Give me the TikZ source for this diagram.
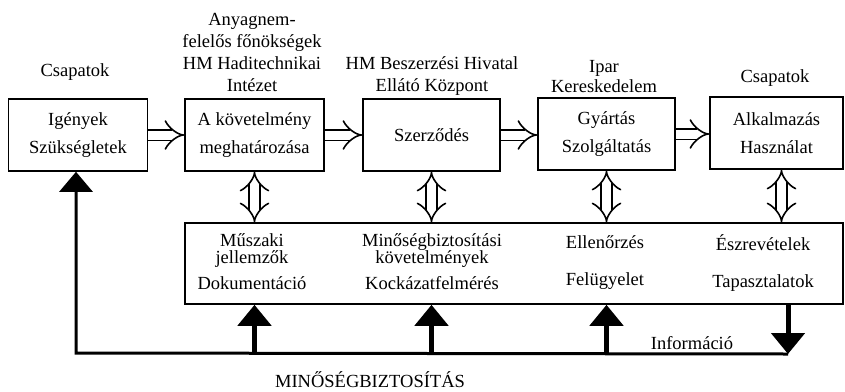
\documentclass[tikz,border=0pt]{standalone}
\usepackage{fontspec}
\setmainfont{Liberation Serif}
\usetikzlibrary{arrows.meta, calc}

\tikzset{
  box/.style={draw, line width=1.6pt, minimum width=139pt, minimum height=72pt,
    align=center, inner sep=0pt},
  lbl/.style={align=center, inner sep=0pt},
  hollow/.style={double, double distance=9pt, line width=1.6pt, -{Implies}},
  hollowboth/.style={double, double distance=9pt, line width=1.6pt, {Implies}-{Implies}},
  bus/.style={line width=3pt},
  stem/.style={line width=5pt, -{Triangle[width=33pt, length=21pt]}},
}

\begin{document}
\begin{tikzpicture}[x=1pt, y=-1pt,
    every node/.style={font=\fontsize{18.5}{22}\selectfont}]
  \useasboundingbox (0,0) rectangle (845,391);

  % main chain
  \node[box] (igeny) at (78,135) {Igények\\[6pt]Szükségletek};
  \node[box] (kovet) at (254.5,135) {A követelmény\\[6pt]meghatározása};
  \node[box, minimum width=137pt] (szerz) at (431.5,135) {Szerződés};
  \node[box, minimum width=137pt] (gyart) at (606.5,134) {Gyártás\\[6pt]Szolgáltatás};
  \node[box, minimum width=133pt] (alkal) at (776.5,133) {Alkalmazás\\[6pt]Használat};

  % who does it
  \node[lbl] (csap1) at (75,72) {Csapatok};
  \node[lbl] (anyag) at (252,52.5) {Anyagnem-\\felelős főnökségek\\HM Haditechnikai\\Intézet};
  \node[lbl] (beszer) at (432,76) {HM Beszerzési Hivatal\\Ellátó Központ};
  \node[lbl] (ipar) at (604,77) {Ipar\\[-2pt]Kereskedelem};
  \node[lbl] (csap2) at (775,78) {Csapatok};

  % quality box
  \node[draw, line width=1.6pt, minimum width=658pt, minimum height=81pt, inner sep=0pt]
    (minos) at (514,263.5) {};
  \node[lbl] (muszak) at (252,262) {Műszaki\\[-5pt]jellemzők\\[4pt]Dokumentáció};
  \node[lbl] (kovkoc) at (432,262) {Minőségbiztosítási\\[-5pt]követelmények\\[4pt]Kockázatfelmérés};
  \node[lbl] (ellen) at (605,263) {Ellenőrzés\\[15pt]Felügyelet};
  \node[lbl] (eszre) at (763,263) {Észrevételek\\[15pt]Tapasztalatok};

  % hollow arrows
  \draw[hollow] (igeny.east) -- (kovet.west);
  \draw[hollow] (kovet.east) -- (szerz.west);
  \draw[hollow] (szerz.east) -- (szerz.east -| gyart.west);
  \draw[hollow] (gyart.east) -- (gyart.east -| alkal.west);
  \draw[hollowboth] (kovet.south) -- (kovet.south |- minos.north);
  \draw[hollowboth] (szerz.south) -- (szerz.south |- minos.north);
  \draw[hollowboth] (gyart.south) -- (gyart.south |- minos.north);
  \draw[hollowboth] ($(alkal.south)+(5,0)$) -- ($(alkal.south |- minos.north)+(5,0)$);

  % feedback
  \coordinate (busR) at (788,354);
  \coordinate (busL) at (76,353);
  \draw[stem] (minos.south -| busR) -- (busR);
  \draw[bus, -{Triangle[width=33pt, length=20pt]}] (busR) -- (busL) -- (busL |- igeny.south);
  \draw[stem] (kovet |- busL) -- (kovet |- minos.south);
  \draw[stem] (szerz |- busL) -- (szerz |- minos.south);
  \draw[stem] (gyart |- busL) -- (gyart |- minos.south);

  \node[lbl] (info) at (692,343) {Információ};
  \node[lbl] (mbizt) at (370,380) {MINŐSÉGBIZTOSÍTÁS};
\end{tikzpicture}
\end{document}
